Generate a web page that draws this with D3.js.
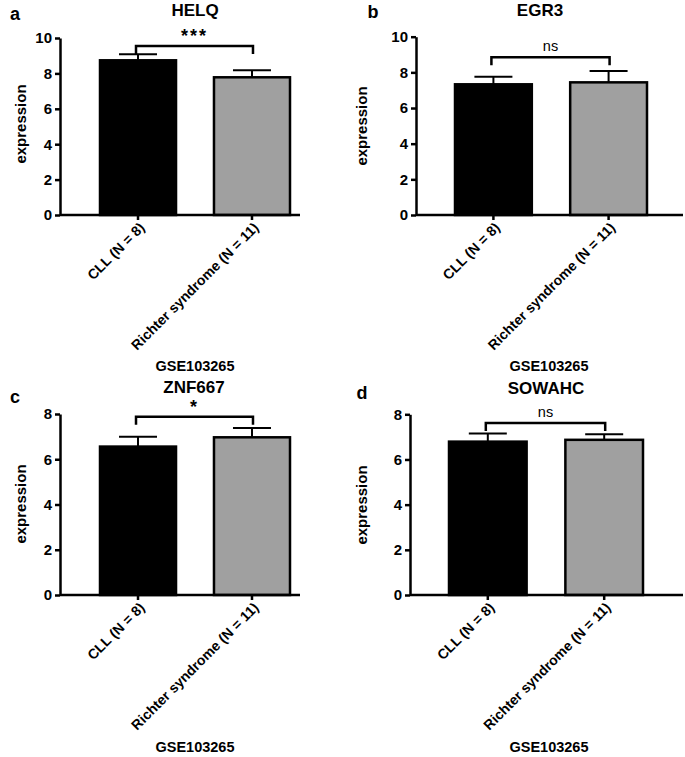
<!DOCTYPE html>
<html>
<head>
<meta charset="utf-8">
<script src="https://cdn.jsdelivr.net/npm/d3@7"></script>
<style>
  body { margin: 0; background: #fff; }
  svg { display: block; }
  text { font-family: "Liberation Sans", Arial, sans-serif; }
</style>
</head>
<body>
<svg id="chart" width="685" height="757"></svg>
<script>
// ---------- data ----------
const categories = ["CLL (N = 8)", "Richter syndrome (N = 11)"];
const genes = ["HELQ", "EGR3", "ZNF667", "SOWAHC"];
const panelLetters = ["a", "b", "c", "d"];
const means = [
  [8.74, 7.78],   // HELQ
  [7.33, 7.44],   // EGR3
  [6.56, 6.97],   // ZNF667
  [6.79, 6.87]    // SOWAHC
];
const errors = [
  [0.34, 0.40],
  [0.43, 0.64],
  [0.44, 0.41],
  [0.36, 0.25]
];
const significance = ["***", "ns", "*", "ns"];
const bracketLevel = [9.55, 8.85, 7.88, 7.62];
const yMax = [10, 10, 8, 8];
const yTicks = [[0, 2, 4, 6, 8, 10], [0, 2, 4, 6, 8, 10], [0, 2, 4, 6, 8], [0, 2, 4, 6, 8]];
const dataset = "GSE103265";
const barColors = ["#000000", "#a0a0a0"];

// ---------- layout ----------
const layouts = [
  { ax: 60,  x1: 300, y0: 215, yT: 38,  bars: [100, 290], title: [195, 10],  letter: [15, 14],  ylab: [21, 124], gse: [195, 366] },
  { ax: 416, x1: 683, y0: 215, yT: 36.7, bars: [455, 647], title: [540, 10], letter: [373, 12], ylab: [362, 126], gse: [549, 366] },
  { ax: 60,  x1: 300, y0: 595, yT: 414, bars: [100, 290], title: [194, 387], letter: [15, 397], ylab: [21, 504], gse: [195, 747] },
  { ax: 410, x1: 683, y0: 595, yT: 414.3, bars: [449, 643], title: [546, 388], letter: [362, 393], ylab: [362, 505], gse: [549, 747] }
];

const svg = d3.select("#chart");
const font = '"Liberation Sans", Arial, sans-serif';

genes.forEach((gene, i) => {
  const L = layouts[i];
  const g = svg.append("g");
  const y = d3.scaleLinear().domain([0, yMax[i]]).range([L.y0, L.yT]);
  const x = d3.scaleBand().domain(categories).range(L.bars).paddingInner(0.333).paddingOuter(0);
  const cx = c => x(c) + x.bandwidth() / 2;

  const rows = categories.map((c, j) => ({ c, m: means[i][j], e: errors[i][j], col: barColors[j] }));

  // bars
  g.selectAll("rect.bar").data(rows).join("rect")
    .attr("x", d => x(d.c)).attr("width", x.bandwidth())
    .attr("y", d => y(d.m)).attr("height", d => y(0) - y(d.m))
    .attr("fill", d => d.col).attr("stroke", "#000").attr("stroke-width", 2.5);

  // error bars
  g.selectAll("line.err").data(rows).join("line")
    .attr("x1", d => cx(d.c)).attr("x2", d => cx(d.c))
    .attr("y1", d => y(d.m)).attr("y2", d => y(d.m + d.e))
    .attr("stroke", "#000").attr("stroke-width", 2);
  g.selectAll("line.cap").data(rows).join("line")
    .attr("x1", d => cx(d.c) - 19).attr("x2", d => cx(d.c) + 19)
    .attr("y1", d => y(d.m + d.e)).attr("y2", d => y(d.m + d.e))
    .attr("stroke", "#000").attr("stroke-width", 2);

  // y axis
  const yAxis = g.append("g").attr("transform", `translate(${L.ax},0)`)
    .call(d3.axisLeft(y).tickValues(yTicks[i]).tickSize(5).tickPadding(3).tickSizeOuter(0));
  yAxis.select(".domain").attr("stroke-width", 2.5);
  yAxis.selectAll(".tick line").attr("stroke-width", 2.5);
  yAxis.selectAll(".tick text").attr("font-family", font).attr("font-size", 15).attr("font-weight", "bold").attr("fill", "#000");

  // x axis
  const xAxis = g.append("g").attr("transform", `translate(0,${L.y0})`)
    .call(d3.axisBottom(x).tickSize(5).tickSizeOuter(0).tickFormat(""));
  xAxis.select(".domain").attr("d", `M${L.ax},0H${L.x1}`).attr("stroke-width", 2.5);
  xAxis.selectAll(".tick line").attr("stroke-width", 2.5);
  xAxis.selectAll(".tick").append("text")
    .attr("transform", "translate(4,10) rotate(-45)")
    .attr("text-anchor", "end").attr("dy", "0.35em")
    .attr("font-family", font).attr("font-size", 14).attr("font-weight", "bold").attr("fill", "#000")
    .text(d => d);

  // significance bracket
  const bx1 = cx(categories[0]) - 2, bx2 = cx(categories[1]) + 1;
  const by = y(bracketLevel[i]);
  g.append("path")
    .attr("d", `M${bx1},${by + 8}V${by}H${bx2}V${by + 8}`)
    .attr("fill", "none").attr("stroke", "#000").attr("stroke-width", 2.5);
  const isStar = significance[i] !== "ns";
  g.append("text")
    .attr("x", (bx1 + bx2) / 2).attr("y", isStar ? by - 4 : by - 6)
    .attr("text-anchor", "middle")
    .attr("font-family", font).attr("font-size", isStar ? 18 : 14.5).attr("font-weight", isStar ? "bold" : "normal")
    .attr("letter-spacing", isStar ? 2 : 0)
    .text(significance[i]);

  // titles & labels
  g.append("text").attr("x", L.title[0]).attr("y", L.title[1]).attr("dy", "0.35em")
    .attr("text-anchor", "middle").attr("font-size", 17).attr("font-weight", "bold").text(gene);
  g.append("text").attr("x", L.letter[0]).attr("y", L.letter[1]).attr("dy", "0.35em")
    .attr("text-anchor", "middle").attr("font-size", 18).attr("font-weight", "bold").text(panelLetters[i]);
  g.append("text").attr("transform", `translate(${L.ylab[0]},${L.ylab[1]}) rotate(-90)`).attr("dy", "0.35em")
    .attr("text-anchor", "middle").attr("font-size", 15).attr("font-weight", "bold").text("expression");
  g.append("text").attr("x", L.gse[0]).attr("y", L.gse[1]).attr("dy", "0.35em")
    .attr("text-anchor", "middle").attr("font-size", 14.5).attr("font-weight", "bold").text(dataset);
});
</script>
</body>
</html>
